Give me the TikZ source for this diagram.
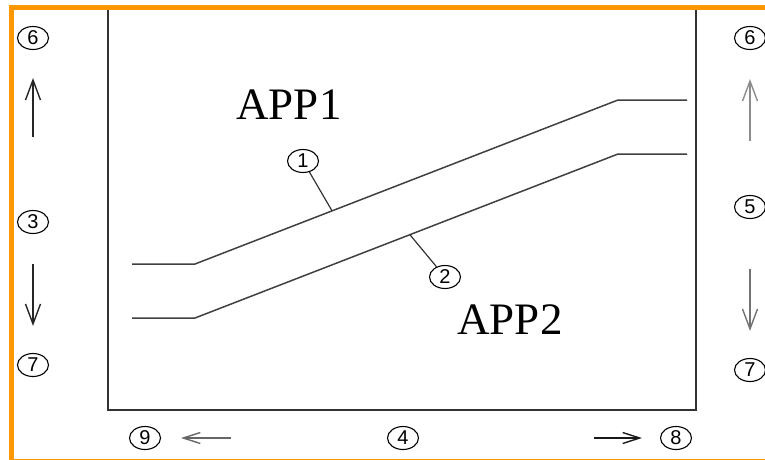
\documentclass[tikz,border=0pt]{standalone}
\usepackage{fontspec}
\setmainfont{Liberation Serif}
\setsansfont{Liberation Sans}
\usepackage{xcolor}
\usetikzlibrary{shapes.geometric, arrows.meta, calc}
\definecolor{frameorange}{RGB}{255,152,0}
\tikzset{
  numcircle/.style={
    ellipse, draw, line width=1.1pt, inner sep=0pt,
    minimum width=31pt, minimum height=23pt,
    font=\sffamily\fontsize{20}{20}\selectfont
  },
  applabel/.style={
    font=\fontsize{45}{45}\selectfont, inner sep=0pt
  },
  appline/.style={
    line width=1.5pt, color=black!75, line join=miter
  },
  leaderline/.style={
    line width=1.2pt, color=black!80
  },
  vertarrow/.style={
    -{Straight Barb[length=20pt, width=15pt, line width=1.4pt]},
    line width=1.8pt
  },
  horzarrow/.style={
    -{Straight Barb[length=17pt, width=11pt, line width=1.4pt]},
    line width=1.8pt
  },
}
\begin{document}
\begin{tikzpicture}[x=1pt, y=-1pt]
  \useasboundingbox (0,0) rectangle (765,460);

  % ── Chart box ──────────────────────────────────────────────────
  \draw[line width=2pt, black!80] (108,8) rectangle (696,410);

  % ── Lines APP1 / APP2 ──────────────────────────────────────────
  \coordinate (a1s) at (132,264);
  \coordinate (a1l) at (195,264);
  \coordinate (a1h) at (618,100);
  \coordinate (a1e) at (687,100);
  \coordinate (a2s) at (132,318);
  \coordinate (a2l) at (195,318);
  \coordinate (a2h) at (618,154);
  \coordinate (a2e) at (687,154);
  \draw[appline] (a1s) -- (a1l) -- (a1h) -- (a1e);
  \draw[appline] (a2s) -- (a2l) -- (a2h) -- (a2e);

  \node[applabel] (app1) at (289,105) {APP1};
  \node[applabel] (app2) at (510,320) {APP2};

  % ── Leaders 1 and 2 ────────────────────────────────────────────
  \node[numcircle] (c1) at (303,161) {1};
  \node[numcircle] (c2) at (445,277) {2};
  \coordinate (p1) at ($(a1l)!0.324!(a1h)$);
  \coordinate (p2) at ($(a2l)!0.508!(a2h)$);
  \draw[leaderline] (c1) -- (p1);
  \draw[leaderline] (c2) -- (p2);

  % ── Left column ────────────────────────────────────────────────
  \node[numcircle] (l6) at (33,38) {6};
  \node[numcircle] (l3) at (33,222) {3};
  \node[numcircle] (l7) at (33,365) {7};
  \draw[vertarrow, black!85, shorten <=73pt, shorten >=28pt] (l3) -- (l6);
  \draw[vertarrow, black!85, shorten <=30pt, shorten >=27pt] (l3) -- (l7);

  % ── Right column ───────────────────────────────────────────────
  \node[numcircle] (r6) at (750,38) {6};
  \node[numcircle] (r5) at (750,207) {5};
  \node[numcircle] (r7) at (750,370) {7};
  \draw[vertarrow, black!45, shorten <=54pt, shorten >=29pt] (r5) -- (r6);
  \draw[vertarrow, black!55, shorten <=50pt, shorten >=27pt] (r5) -- (r7);

  % ── Bottom row ─────────────────────────────────────────────────
  \node[numcircle] (b9) at (145,438) {9};
  \node[numcircle] (b4) at (403,438) {4};
  \node[numcircle] (b8) at (676,438) {8};
  \draw[horzarrow, black!60, shorten <=156pt, shorten >=20pt] (b4) -- (b9);
  \draw[horzarrow, black!90, shorten <=175pt, shorten >=18pt] (b4) -- (b8);

  % ── Orange frame ───────────────────────────────────────────────
  \draw[frameorange, line width=5pt] (11.5,8) rectangle (790,461.5);
\end{tikzpicture}
\end{document}
